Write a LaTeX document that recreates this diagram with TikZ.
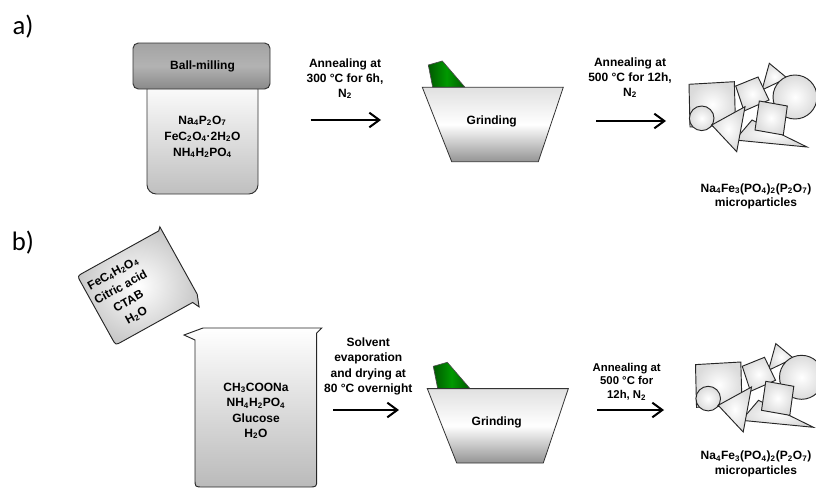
\documentclass[tikz,border=0pt]{standalone}
\usepackage{fontspec}
\setmainfont{Liberation Sans}
\newfontfamily\labelfont{Carlito}
\usetikzlibrary{arrows.meta,shadings}
\newcommand{\chemsub}[1]{\textsubscript{#1}}

% cluster of bevelled crystallites (back to front)
\newcommand{\particlecluster}{%
  \path[particle] (769.3,63.3) -- (787,78) -- (762,90) -- cycle;
  \path[particle] (795,97) circle[radius=22];
  \path[particle] (735.7,86) -- (758,77) -- (769,100) -- (744,111) -- cycle;
  \path[particle] (689,84.3) -- (734.3,81.7) -- (735.5,125) -- (690,127) -- cycle;
  \path[particle] (735,140) -- (752,120) -- (807,147) -- cycle;
  \path[particle] (759.3,101) -- (787.3,106) -- (783.3,135) -- (755,130) -- cycle;
  \path[particle] (701.7,118.3) circle[radius=12.3];
  \path[particle] (711.7,125) -- (745,106.7) -- (736.7,151.7) -- cycle;
}

\tikzset{
  txt/.style={font=\bfseries\fontsize{9}{11}\selectfont, align=center, inner sep=0pt},
  arr/.style={line width=1.5pt, -{Straight Barb[length=7.5pt,width=11pt]}},
  particle/.style={draw=black!85, line width=0.7pt, inner color=white, outer color=black!14},
  pestle/.style={draw=black!70, line width=0.5pt, left color=green!35!black, right color=green!35!black, middle color=green!60!black},
  mortar/.style={draw=black!80, line width=0.6pt, top color=black!12, bottom color=black!42, middle color=white},
  jarcap/.style={draw=black!80, line width=0.7pt, rounded corners=4pt, top color=black!36, bottom color=black!46, middle color=black!30},
  jarbody/.style={draw=black!80, line width=0.7pt, rounded corners=7pt, top color=white, bottom color=black!25},
  beaker/.style={draw=black!85, line width=0.7pt, top color=white, bottom color=black!27},
  tiltbeaker/.style={draw=black!85, line width=0.7pt, inner color=white, outer color=black!22},
  panel/.style={font=\labelfont\fontsize{20}{24}\selectfont, inner sep=0pt}
}

\begin{document}
\begin{tikzpicture}[x=0.75pt,y=-0.75pt]
\useasboundingbox (0,0) rectangle (816,489);

% panel labels
\node[panel] (lbla) at (23,27) {a)};
\node[panel] (lblb) at (23,243) {b)};

% ---------- a) solid-state route ----------
% ball-milling jar
\path[jarbody] (147,80) -- (147,194) -- (258,194) -- (258,80) -- cycle;
\path[jarcap] (133,43) rectangle (270,89);
\node[txt] (ballmill) at (202.5,66.7) {Ball-milling};
\node[txt, font=\bfseries\fontsize{9}{12}\selectfont] (precA) at (202.5,137)
  {Na\chemsub{4}P\chemsub{2}O\chemsub{7}\\FeC\chemsub{2}O\chemsub{4}·2H\chemsub{2}O\\NH\chemsub{4}H\chemsub{2}PO\chemsub{4}};

% first annealing step
\node[txt] (annA1) at (345,79) {Annealing at\\300 °C for 6h,\\N\chemsub{2}};
\coordinate (a1s) at (310.7,120);
\coordinate (a1e) at (381,120);
\draw[arr] (a1s) -- (a1e);

% mortar and pestle
\path[pestle] (428.3,65) -- (442.3,61) -- (465,87.3) -- (432.7,87.3) -- cycle;
\path[mortar] (422.3,87.3) -- (563.3,87.3) -- (538.3,161.7) -- (451.7,161.7) -- cycle;
\node[txt] (grindA) at (491.7,121.7) {Grinding};

% second annealing step
\node[txt] (annA2) at (630,78) {Annealing at\\500 °C for 12h,\\N\chemsub{2}};
\coordinate (a2s) at (596,121);
\coordinate (a2e) at (666,121);
\draw[arr] (a2s) -- (a2e);

% product
\particlecluster
\node[txt] (prodA) at (756,196.5)
  {Na\chemsub{4}Fe\chemsub{3}(PO\chemsub{4})\chemsub{2}(P\chemsub{2}O\chemsub{7})\\microparticles};

% ---------- b) sol-gel route ----------
% pouring beaker
\begin{scope}[shift={(138.5,287.3)}, rotate=-61]
  \path[tiltbeaker]
    (-42.5,-48) -- (34.5,-48) -- (46.5,-43.5) -- (39.5,-40) -- (39.5,41)
    .. controls (39.5,48) .. (32.5,48) -- (-32.5,48)
    .. controls (-39.5,48) .. (-39.5,41) -- (-39.5,-45) -- cycle;
\end{scope}
\node[txt, rotate=29, font=\bfseries\fontsize{9}{12}\selectfont] (precB1) at (124.8,294.6)
  {FeC\chemsub{4}H\chemsub{2}O\chemsub{4}\\Citric acid\\CTAB\\H\chemsub{2}O};

% receiving beaker
\path[beaker] (203,328) -- (321.7,328) -- (316.7,333) -- (316.7,479)
  .. controls (316.7,487) .. (308.7,487) -- (203,487)
  .. controls (195,487) .. (195,479) -- (195,340) -- (184,335) -- cycle;
\node[txt, font=\bfseries\fontsize{9}{11.5}\selectfont] (precB2) at (256,411)
  {CH\chemsub{3}COONa\\NH\chemsub{4}H\chemsub{2}PO\chemsub{4}\\Glucose\\H\chemsub{2}O};

% drying step
\node[txt, font=\bfseries\fontsize{9}{11.5}\selectfont] (dryB) at (368.3,366.5)
  {Solvent\\evaporation\\and drying at\\80 °C overnight};
\coordinate (b1s) at (333,410);
\coordinate (b1e) at (399,410);
\draw[arr] (b1s) -- (b1e);

% mortar and pestle
\begin{scope}[shift={(5,301.3)}]
  \path[pestle] (428.3,65) -- (442.3,61) -- (465,87.3) -- (432.7,87.3) -- cycle;
  \path[mortar] (422.3,87.3) -- (563.3,87.3) -- (538.3,161.7) -- (451.7,161.7) -- cycle;
\end{scope}
\node[txt] (grindB) at (496.7,422.7) {Grinding};

% annealing step
\node[txt, font=\bfseries\fontsize{8.5}{10}\selectfont] (annB) at (626.7,381.7)
  {Annealing at\\500 °C for\\12h, N\chemsub{2}};
\coordinate (b2s) at (597,410);
\coordinate (b2e) at (664,410);
\draw[arr] (b2s) -- (b2e);

% product
\begin{scope}[shift={(6.5,280.3)}]
  \particlecluster
\end{scope}
\node[txt] (prodB) at (756,464)
  {Na\chemsub{4}Fe\chemsub{3}(PO\chemsub{4})\chemsub{2}(P\chemsub{2}O\chemsub{7})\\microparticles};
\end{tikzpicture}
\end{document}
